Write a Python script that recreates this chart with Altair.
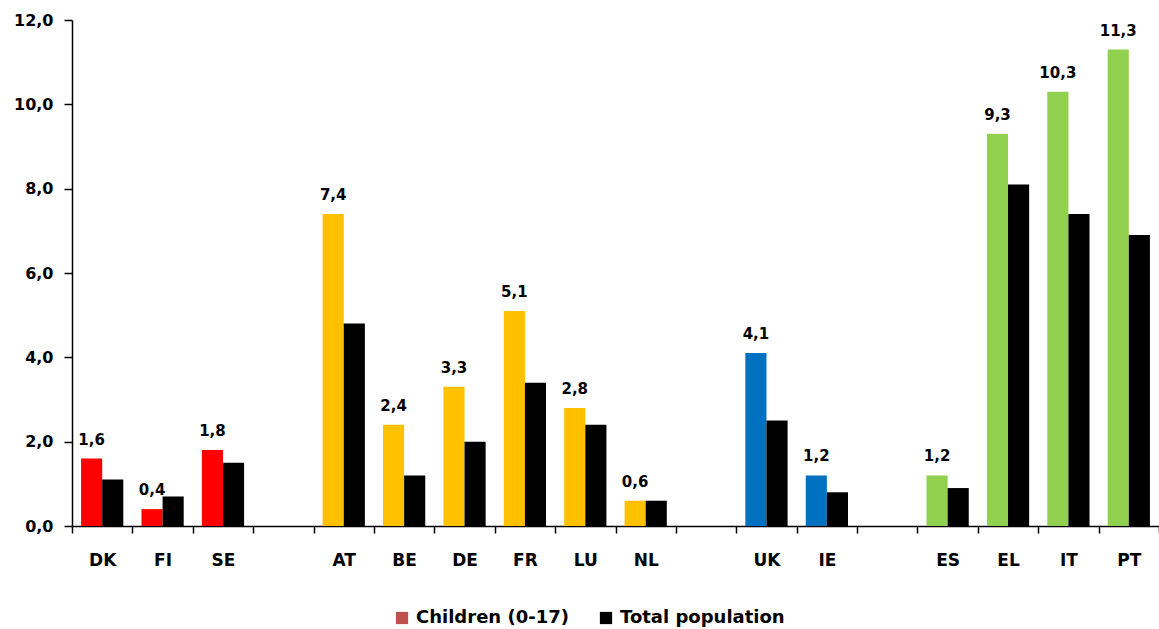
import altair as alt
import pandas as pd

# Countries, in display order, with the children / total-population values
countries = ["DK", "FI", "SE", "AT", "BE", "DE", "FR", "LU", "NL",
             "UK", "IE", "ES", "EL", "IT", "PT"]
children = [1.6, 0.4, 1.8, 7.4, 2.4, 3.3, 5.1, 2.8, 0.6,
            4.1, 1.2, 1.2, 9.3, 10.3, 11.3]
total = [1.1, 0.7, 1.5, 4.8, 1.2, 2.0, 3.4, 2.4, 0.6,
         2.5, 0.8, 0.9, 8.1, 7.4, 6.9]
# Country-group colour for the children bars
group_color = ["#FF0000"] * 3 + ["#FFC000"] * 6 + ["#0070C0"] * 2 + ["#92D050"] * 4

series_names = ["Children (0-17)", "Total population"]
legend_colors = ["#C0504D", "#000000"]

# Category slots, with empty slots separating the country groups
slots = ["DK", "FI", "SE", " ", "AT", "BE", "DE", "FR", "LU", "NL", "  ",
         "UK", "IE", "   ", "ES", "EL", "IT", "PT"]

rows = []
for c, ch, tot, col in zip(countries, children, total, group_color):
    rows.append({"country": c, "series": series_names[0], "value": ch, "fill": col})
    rows.append({"country": c, "series": series_names[1], "value": tot, "fill": "#000000"})
df = pd.DataFrame(rows)

FONT = "DejaVu Sans"

x_enc = alt.X(
    "country:N",
    scale=alt.Scale(domain=slots, paddingInner=0, paddingOuter=0),
    sort=slots,
    axis=alt.Axis(
        title=None, labelAngle=0, tickBand="extent", tickSize=7,
        labelPadding=19, labelFontSize=17, labelFontWeight="bold",
        labelColor="#000000", domainColor="#000000", domainWidth=1.5,
        tickColor="#000000", tickWidth=1.5, labelFont=FONT,
    ),
)
xoff_enc = alt.XOffset(
    "series:N",
    scale=alt.Scale(domain=series_names, paddingInner=0, paddingOuter=0.43),
)
y_enc = alt.Y(
    "value:Q",
    scale=alt.Scale(domain=[0, 12], nice=False),
    axis=alt.Axis(
        title=None, values=[0, 2, 4, 6, 8, 10, 12], grid=False,
        labelExpr="replace(format(datum.value, '.1f'), '.', ',')",
        tickSize=8, labelPadding=11, labelFontSize=16, labelFontWeight="bold",
        labelColor="#000000", domainColor="#000000", domainWidth=1.5,
        tickColor="#000000", tickWidth=1.5, labelFont=FONT,
    ),
)

base = alt.Chart(df)

bars = base.mark_bar().encode(
    x=x_enc,
    xOffset=xoff_enc,
    y=y_enc,
    fill=alt.Fill("fill:N", scale=None),
)

labels = base.transform_filter(
    alt.datum.series == series_names[0]
).transform_calculate(
    label="replace(format(datum.value, '.1f'), '.', ',')"
).mark_text(
    dy=-19, fontSize=15, fontWeight="bold", font=FONT, color="#000000"
).encode(
    x=x_enc,
    xOffset=xoff_enc,
    y=y_enc,
    text="label:N",
)

# Invisible marks that carry the series legend
legend_layer = base.mark_square(size=0).encode(
    x=x_enc,
    xOffset=xoff_enc,
    y=y_enc,
    color=alt.Color(
        "series:N",
        scale=alt.Scale(domain=series_names, range=legend_colors),
        legend=alt.Legend(
            title=None, orient="none", direction="horizontal",
            legendX=321, legendY=589,
            symbolType="square", symbolSize=150, symbolOpacity=1,
            symbolStrokeWidth=0, labelFontSize=18, labelFontWeight="bold",
            labelFont=FONT, labelColor="#000000", columnPadding=28,
            labelOffset=5, labelLimit=300,
        ),
    ),
)

chart = alt.layer(bars, labels, legend_layer).properties(
    width=1087,
    height=506,
    autosize=alt.AutoSizeParams(type="none"),
    padding={"left": 72, "top": 20, "right": 0, "bottom": 103},
    background="#FFFFFF",
).configure_view(stroke=None)

chart.save("out.html", embed_options={"renderer": "svg", "actions": False})
